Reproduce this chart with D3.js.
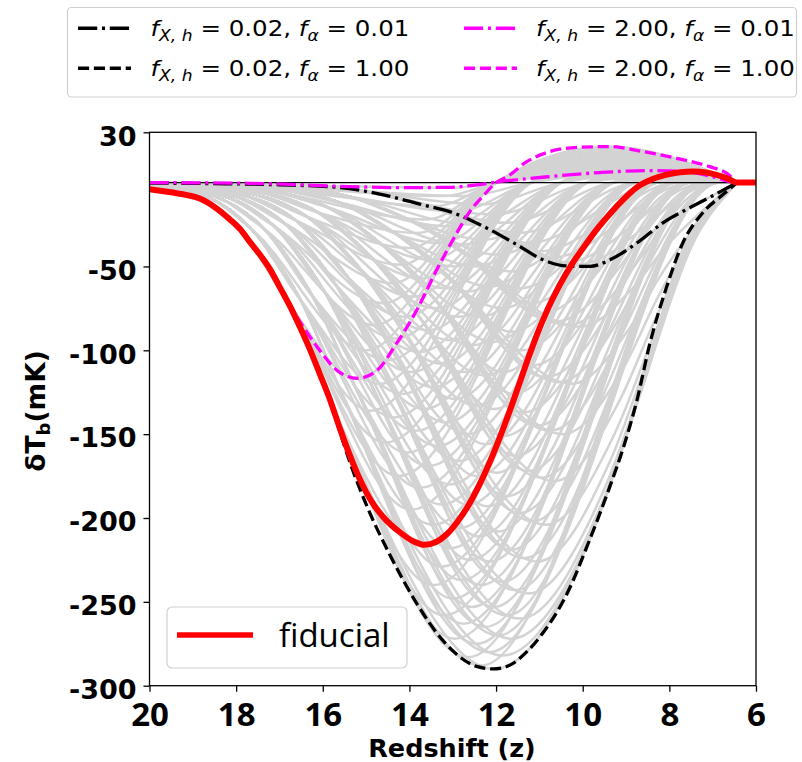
<!DOCTYPE html>
<html><head><meta charset="utf-8">
<script src="https://cdn.jsdelivr.net/npm/d3@7"></script>
<style>body{margin:0;background:#fff}svg{display:block}</style>
</head><body>
<svg id="c" width="802" height="762"></svg>
<script>
// ---------- data ----------
const X_TICKS = [20, 18, 16, 14, 12, 10, 8, 6];
const Y_TICKS = [30, -50, -100, -150, -200, -250, -300];

// fiducial (red)
const fiducialZ = [20, 19.5, 19.1, 18.84, 18.5, 18.15, 17.9, 17.68, 17.45, 17.22, 17.0, 16.76, 16.53, 16.3, 16.07, 15.84, 15.6, 15.37, 15.18, 14.99, 14.8, 14.6, 14.22, 13.9, 13.65, 13.4, 13.15, 12.9, 12.65, 12.4, 12.15, 11.9, 11.6, 11.33, 11.06, 10.8, 10.53, 10.26, 9.99, 9.68, 9.37, 9.06, 8.76, 8.4, 8.06, 7.75, 7.45, 7.15, 6.91, 6.65, 6.44];
const fiducialT = [-4, -5.8, -7.6, -9.5, -14.5, -21.8, -28, -35.5, -43, -51.6, -62, -73.5, -86, -99.3, -114, -129, -147, -163, -175, -185, -193, -199.5, -208.5, -214, -216, -214.5, -210, -202.5, -193, -181, -167, -151, -130, -110, -91, -75, -61, -49, -39, -28, -18.5, -10, -3, 2, 4.8, 6.2, 6.6, 6, 4.6, 2.5, 0];

// f_X,h = 0.02, f_alpha = 1.00 (black dashed)
const lowXhighAZ = [20, 19.5, 19.1, 18.84, 18.5, 18.15, 17.9, 17.68, 17.45, 17.22, 17.0, 16.76, 16.53, 16.3, 16.07, 15.84, 15.6, 15.37, 14.98, 14.45, 13.83, 13.23, 12.83, 12.45, 12.07, 11.7, 11.3, 10.92, 10.36, 9.84, 9.37, 9.05, 8.75, 8.45, 8.06, 7.69, 7.23, 6.77, 6.44];
const lowXhighAT = [-4, -5.8, -7.6, -9.5, -14.5, -21.8, -28, -35.5, -43, -51.6, -62, -73.5, -86, -99.3, -114, -129, -149, -167, -193, -222, -251, -273, -283, -288.5, -290, -288, -280, -268.6, -245, -213, -181, -157, -130, -96, -62, -36, -18, -7.3, 0];

// f_X,h = 0.02, f_alpha = 0.01 (black dash-dot)
const lowXlowAZ = [20, 18.5, 17, 15.67, 14.6, 13.69, 13.07, 12.3, 11.52, 10.92, 10.37, 9.84, 9.37, 8.75, 8.15, 7.53, 6.9, 6.44];
const lowXlowAT = [-0.3, -0.6, -1.3, -2.8, -7.3, -13.3, -17.3, -26, -37, -46, -49.7, -50, -46, -36, -24, -15, -6.5, 0];

// f_X,h = 2.00, f_alpha = 1.00 (magenta dashed)
const highXhighAZ = [20, 19.5, 19.1, 18.84, 18.5, 18.15, 17.9, 17.68, 17.45, 17.14, 16.6, 16.13, 15.67, 15.21, 14.75, 14.29, 13.83, 13.37, 12.95, 12.6, 12.3, 12.0, 11.74, 11.29, 10.76, 10.13, 9.37, 8.61, 7.83, 7.07, 6.68, 6.44];
const highXhighAT = [-4, -5.8, -7.6, -9.5, -14.5, -21.8, -28, -35.5, -43, -56, -80, -98, -112, -116.7, -112, -95.6, -76, -52, -32, -17, -8, 0, 3.6, 12.5, 18.5, 21, 21.5, 18.5, 14.5, 9.5, 5.6, 0];

// f_X,h = 2.00, f_alpha = 0.01 (magenta dash-dot)
const highXlowAZ = [20, 17.68, 15.37, 14.2, 13.07, 12.5, 11.91, 10.76, 9.6, 8.45, 7.69, 7.07, 6.6, 6.44];
const highXlowAT = [0, -0.4, -2.4, -3, -2.8, -1.5, 0.6, 3.6, 6, 7.2, 6.6, 4, 0.6, 0];

// grey ensemble: descent of each f_alpha family, [z, T]
const greyDescent = [
  [[20,-4],[18.9,-8.7],[17.88,-29],[16.77,-72.5],[15.83,-130.5],[15.0,-188.5],[13.87,-246.5],[13.15,-275.5]],
  [[20,-3.2],[18.71,-8.5],[17.63,-28.2],[16.5,-70.5],[15.54,-126.9],[14.71,-183.3],[13.62,-239.7],[12.91,-267.9]],
  [[20,-2.5],[18.52,-8.2],[17.37,-27.2],[16.23,-68],[15.24,-122.4],[14.42,-176.8],[13.37,-231.2],[12.67,-258.4]],
  [[20,-2],[18.33,-7.8],[17.12,-26],[15.96,-65],[14.95,-117],[14.13,-169],[13.11,-221],[12.43,-247]],
  [[20,-1.6],[18.14,-7.4],[16.87,-24.5],[15.69,-61.3],[14.65,-110.3],[13.84,-159.3],[12.86,-208.3],[12.19,-232.8]],
  [[20,-1.3],[17.95,-6.8],[16.62,-22.6],[15.42,-56.5],[14.36,-101.7],[13.55,-146.9],[12.61,-192.1],[11.95,-214.7]],
  [[20,-1],[17.75,-6.1],[16.36,-20.4],[15.15,-51],[14.07,-91.8],[13.25,-132.6],[12.36,-173.4],[11.7,-193.8]],
  [[20,-0.8],[17.56,-5.3],[16.11,-17.8],[14.88,-44.5],[13.77,-80.1],[12.96,-115.7],[12.11,-151.3],[11.46,-169.1]],
  [[20,-0.6],[17.37,-4.5],[15.86,-15],[14.61,-37.5],[13.48,-67.5],[12.67,-97.5],[11.85,-127.5],[11.22,-142.5]],
  [[20,-0.5],[17.18,-3.6],[15.6,-12],[14.34,-30],[13.18,-54],[12.38,-78],[11.6,-102],[10.98,-114]],
  [[20,-0.4],[16.99,-2.6],[15.35,-8.6],[14.07,-21.5],[12.89,-38.7],[12.09,-55.9],[11.35,-73.1],[10.74,-81.7]],
  [[20,-0.3],[16.8,-1.5],[15.1,-5],[13.8,-12.5],[12.6,-22.5],[11.8,-32.5],[11.1,-42.5],[10.5,-47.5]]
];
// trough redshift per family (rows, f_alpha high -> low) and heating step (columns, f_X,h low -> high)
const greyTroughZ = [
  [12.05,12.35,12.65,12.95,13.2,13.45,13.65,13.95,14.25,14.55,14.9,15.2],
  [11.85,12.15,12.45,12.75,13.0,13.25,13.45,13.75,14.05,14.35,14.7,15.0],
  [11.65,11.95,12.25,12.55,12.8,13.05,13.25,13.55,13.85,14.15,14.5,14.8],
  [11.45,11.75,12.05,12.35,12.6,12.85,13.05,13.35,13.65,13.95,14.3,14.6],
  [11.25,11.55,11.85,12.15,12.4,12.65,12.85,13.15,13.45,13.75,14.1,14.4],
  [11.05,11.35,11.65,11.95,12.2,12.45,12.65,12.95,13.25,13.55,13.9,14.2],
  [10.85,11.15,11.45,11.75,12.0,12.25,12.45,12.75,13.05,13.35,13.7,14.0],
  [10.65,10.95,11.25,11.55,11.8,12.05,12.25,12.55,12.85,13.15,13.5,13.8],
  [10.45,10.75,11.05,11.35,11.6,11.85,12.05,12.35,12.65,12.95,13.3,13.6],
  [10.25,10.55,10.85,11.15,11.4,11.65,11.85,12.15,12.45,12.75,13.1,13.4],
  [10.05,10.35,10.65,10.95,11.2,11.45,11.65,11.95,12.25,12.55,12.9,13.2],
  [9.84,10.15,10.45,10.75,11.0,11.25,11.45,11.75,12.05,12.35,12.7,13.0]
];
const greyTroughT = [
  [-290,-288,-283,-272,-258,-240,-216,-195,-175,-155,-136,-117],
  [-282,-280,-275,-263,-248,-229,-204,-182,-161,-140,-120,-100],
  [-272,-270,-265,-253,-237,-218,-192,-169,-148,-126,-106,-85],
  [-260,-258,-253,-240,-225,-206,-180,-157,-135,-113,-93,-72],
  [-245,-243,-238,-226,-211,-192,-166,-143,-122,-101,-80,-60],
  [-226,-224,-219,-208,-193,-175,-150,-129,-108,-88,-68,-49],
  [-204,-202,-197,-187,-173,-156,-133,-113,-94,-75,-57,-39],
  [-178,-176,-172,-163,-151,-135,-115,-97,-80,-63,-46,-30],
  [-150,-148,-145,-137,-126,-113,-95,-80,-65,-50,-36,-22],
  [-120,-119,-116,-109,-100,-89,-75,-62,-50,-37,-26,-14],
  [-86,-85,-83,-78,-72,-63,-53,-43,-34,-25,-17,-8],
  [-50,-49,-48,-45,-41,-36,-30,-24,-19,-13,-8,-3]
];
// zero crossing and emission-peak redshift per heating step
const greyCrossZ = [null, 6.9, 7.2, 7.55, 7.9, 8.3, 8.8, 9.3, 9.9, 10.5, 11.2, 12.0];
const greyPeakZ  = [null, 6.7, 6.8, 6.95, 7.1, 7.25, 7.46, 7.8, 8.2, 8.6, 9.0, 9.4];
const greyPeakT = [
  [0,0.5,1.2,2.2,3.4,4.8,6.6,9,12,15,18.5,21.5],
  [0,0.5,1.1,2.1,3.2,4.5,6.2,8.5,11.3,14.1,17.4,20.2],
  [0,0.4,1.1,1.9,3,4.2,5.8,7.9,10.6,13.2,16.3,18.9],
  [0,0.4,1,1.8,2.8,3.9,5.4,7.4,9.8,12.3,15.2,17.6],
  [0,0.4,0.9,1.7,2.6,3.6,5,6.8,9.1,11.4,14.1,16.3],
  [0,0.4,0.8,1.5,2.4,3.4,4.6,6.3,8.4,10.5,13,15],
  [0,0.3,0.8,1.4,2.2,3.1,4.2,5.8,7.7,9.6,11.8,13.8],
  [0,0.3,0.7,1.3,2,2.8,3.8,5.2,7,8.7,10.7,12.5],
  [0,0.3,0.6,1.1,1.8,2.5,3.4,4.7,6.2,7.8,9.6,11.2],
  [0,0.2,0.6,1,1.6,2.2,3,4.1,5.5,6.9,8.5,9.9],
  [0,0.2,0.5,0.9,1.4,1.9,2.6,3.6,4.8,6,7.4,8.6],
  [0,0.2,0.4,0.7,1.1,1.6,2.2,3,4,5,6.2,7.2]
];
// recovery of the weakest-heating member of each family
const greyRiseNoHeat = [
  [[9.84,-213],[8.75,-130],[7.69,-40]],
  [[9.74,-206],[8.69,-126],[7.62,-39]],
  [[9.64,-199],[8.62,-122],[7.56,-37.5]],
  [[9.54,-190],[8.56,-117],[7.49,-36]],
  [[9.44,-179],[8.49,-110],[7.42,-34]],
  [[9.35,-165],[8.43,-101],[7.36,-31]],
  [[9.25,-149],[8.37,-92],[7.29,-28]],
  [[9.15,-130],[8.3,-80],[7.22,-25]],
  [[9.05,-110],[8.24,-67],[7.16,-21]],
  [[8.95,-88],[8.17,-54],[7.09,-17]],
  [[8.85,-63],[8.11,-39],[7.02,-12]],
  [[8.75,-36.5],[8.05,-22.5],[6.95,-7]]
];
const Z_END = 6.44; // all curves meet zero here
const Z_MIN = 6;

const legendTop = [
  {fx: "0.02", fa: "0.01", color: "#000", dash: "19.2,4.8,3,4.8"},
  {fx: "0.02", fa: "1.00", color: "#000", dash: "11.1,4.8"},
  {fx: "2.00", fa: "0.01", color: "#ff00ff", dash: "19.2,4.8,3,4.8"},
  {fx: "2.00", fa: "1.00", color: "#ff00ff", dash: "11.1,4.8"}
];

// ---------- drawing ----------
const svg = d3.select("#c");
const L = 149.5, R = 756, T = 132.3, B = 685.7;
const x = d3.scaleLinear().domain([20, 6]).range([L, R]);
const y = d3.scaleLinear().domain([-300, 30]).range([B, T]);
const line = d3.line().x(d => x(d[0])).y(d => y(d[1])).curve(d3.curveMonotoneX);
const zip = (a, b) => a.map((v, i) => [v, b[i]]);

svg.append("defs").append("clipPath").attr("id", "clip")
  .append("rect").attr("x", L).attr("y", T).attr("width", R - L).attr("height", B - T);
const g = svg.append("g").attr("clip-path", "url(#clip)");

// grey ensemble
const greyCurves = [];
greyDescent.forEach((desc, f) => {
  greyTroughZ[f].forEach((tz, k) => {
    const tt = greyTroughT[f][k];
    const pts = desc.filter(p => p[0] > tz + 0.6 && p[1] > 0.65 * tt);
    pts.push([tz, tt]);
    if (k === 0) greyRiseNoHeat[f].forEach(p => pts.push(p));
    else { pts.push([greyCrossZ[k], 0]); pts.push([greyPeakZ[k], greyPeakT[f][k]]); }
    pts.push([Z_END, 0]);
    greyCurves.push(pts);
  });
});
g.selectAll("path.grey").data(greyCurves).join("path").attr("class", "grey")
  .attr("d", line).attr("fill", "none").attr("stroke", "#d3d3d3").attr("stroke-width", 2.5);

// zero line
g.append("line").attr("x1", L).attr("x2", R).attr("y1", y(0)).attr("y2", y(0))
  .attr("stroke", "#000").attr("stroke-width", 1.3);

const drawCurve = (z, t, color, dash, w) => {
  const p = g.append("path").attr("d", line(zip(z, t))).attr("fill", "none")
    .attr("stroke", color).attr("stroke-width", w);
  if (dash) p.attr("stroke-dasharray", dash);
};
drawCurve(lowXlowAZ, lowXlowAT, "#000", "19.2,4.8,3,4.8", 3.3);
drawCurve(lowXhighAZ, lowXhighAT, "#000", "11.1,4.8", 3.3);
drawCurve(highXlowAZ, highXlowAT, "#ff00ff", "19.2,4.8,3,4.8", 3.3);
drawCurve(highXhighAZ, highXhighAT, "#ff00ff", "11.1,4.8", 3.3);
// fiducial + flat tail
g.append("path").attr("d", line(zip(fiducialZ, fiducialT).concat([[Z_MIN, 0]])))
  .attr("fill", "none").attr("stroke", "#ff0000").attr("stroke-width", 6);

// frame
svg.append("rect").attr("x", L).attr("y", T).attr("width", R - L).attr("height", B - T)
  .attr("fill", "none").attr("stroke", "#000").attr("stroke-width", 1.3);

// axes
const yAxis = svg.append("g").attr("transform", `translate(${L},0)`)
  .call(d3.axisLeft(y).tickValues(Y_TICKS).tickSize(6).tickPadding(7).tickFormat(d => String(d)));
yAxis.select(".domain").remove();
yAxis.selectAll("line").attr("stroke-width", 1.3);
yAxis.selectAll("text").attr("font-family", "DejaVu Sans").attr("font-weight", "bold")
  .attr("font-size", 27).attr("fill", "#000").attr("dy", "0.47em");

const xAxis = svg.append("g").attr("transform", `translate(0,${B})`)
  .call(d3.axisBottom(x).tickValues(X_TICKS).tickSize(6).tickPadding(8).tickFormat(d => String(d)));
xAxis.select(".domain").remove();
xAxis.selectAll("line").attr("stroke-width", 1.3);
xAxis.selectAll("text").attr("font-family", "Open Sans").attr("font-weight", "bold")
  .attr("font-size", 33).attr("fill", "#000").attr("dy", "0.8em");

// axis labels
svg.append("text").attr("x", 452).attr("y", 756.5).attr("text-anchor", "middle")
  .attr("font-family", "DejaVu Sans").attr("font-weight", "bold").attr("font-size", 25.5)
  .text("Redshift (z)");
const yl = svg.append("text").attr("transform", "translate(45,411) rotate(-90)")
  .attr("text-anchor", "middle").attr("font-family", "DejaVu Sans").attr("font-weight", "bold")
  .attr("font-size", 26.5);
yl.append("tspan").text("δT");
yl.append("tspan").attr("font-size", 18).attr("dy", 5).text("b");
yl.append("tspan").attr("dy", -5).text("(mK)");

// top legend
svg.append("rect").attr("x", 67.5).attr("y", 7.5).attr("width", 729).attr("height", 89.5)
  .attr("rx", 4).attr("fill", "#fff").attr("stroke", "#d0d0d0").attr("stroke-width", 1.2);
legendTop.forEach((d, i) => {
  const col = Math.floor(i / 2), row = i % 2;
  const lx = col === 0 ? 78 : 464, tx = col === 0 ? 150.5 : 536;
  const cy = row === 0 ? 28.3 : 68.3;
  svg.append("line").attr("x1", lx).attr("x2", lx + 53).attr("y1", cy).attr("y2", cy)
    .attr("stroke", d.color).attr("stroke-width", 3.5).attr("stroke-dasharray", d.dash);
  const t = svg.append("text").attr("x", tx).attr("y", cy + 8)
    .attr("font-family", "DejaVu Sans").attr("font-size", 22).attr("fill", "#000");
  t.append("tspan").attr("font-style", "italic").text("f");
  t.append("tspan").attr("font-style", "italic").attr("font-size", 15.4).attr("dy", 4.5).text("X, h");
  t.append("tspan").attr("dy", -4.5).text(" = " + d.fx + ", ");
  t.append("tspan").attr("font-style", "italic").text("f");
  t.append("tspan").attr("font-style", "italic").attr("font-size", 15.4).attr("dy", 4.5).text("α");
  t.append("tspan").attr("dy", -4.5).text(" = " + d.fa);
  const bb = t.node().getBBox();
  const sx = 259 / bb.width;
  t.attr("transform", `translate(${tx},0) scale(${sx},1) translate(${-tx},0)`);
});

// bottom legend
svg.append("rect").attr("x", 167).attr("y", 607).attr("width", 240).attr("height", 61)
  .attr("rx", 5).attr("fill", "#fff").attr("fill-opacity", 0.85).attr("stroke", "#d0d0d0").attr("stroke-width", 1.2);
svg.append("line").attr("x1", 177).attr("x2", 253).attr("y1", 635).attr("y2", 635)
  .attr("stroke", "#ff0000").attr("stroke-width", 5.5);
svg.append("text").attr("x", 279).attr("y", 646.5).attr("font-family", "Open Sans")
  .attr("font-size", 33).attr("fill", "#000").text("fiducial");
</script>
</body></html>
